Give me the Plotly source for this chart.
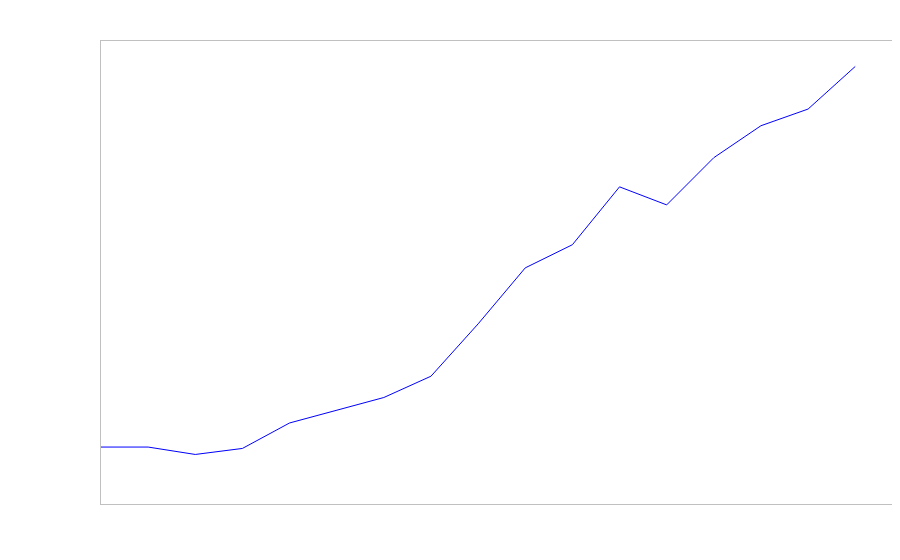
import plotly.graph_objects as go

# Data (arbitrary units, no labels shown)
periods = list(range(17))
values = [12.3, 12.3, 10.7, 12.0, 17.5, 20.2, 23.0, 27.6, 38.9, 51.0,
          56.0, 68.5, 64.6, 74.8, 81.7, 85.3, 94.5]

fig = go.Figure()
fig.add_trace(go.Scatter(
    x=periods, y=values, mode="lines",
    line=dict(color="#0000ff", width=1),
    showlegend=False, hoverinfo="skip",
))

axis_style = dict(
    showline=True, mirror=True, linecolor="#c0c0c0", linewidth=1,
    showgrid=False, zeroline=False, showticklabels=False, ticks="",
)
fig.update_xaxes(range=[0, 16.78], **axis_style)
fig.update_yaxes(range=[0, 100], **axis_style)

fig.update_layout(
    width=884, height=544,
    margin=dict(l=93, r=0, t=33, b=48),
    paper_bgcolor="white", plot_bgcolor="white",
)

fig.write_html("out.html")
